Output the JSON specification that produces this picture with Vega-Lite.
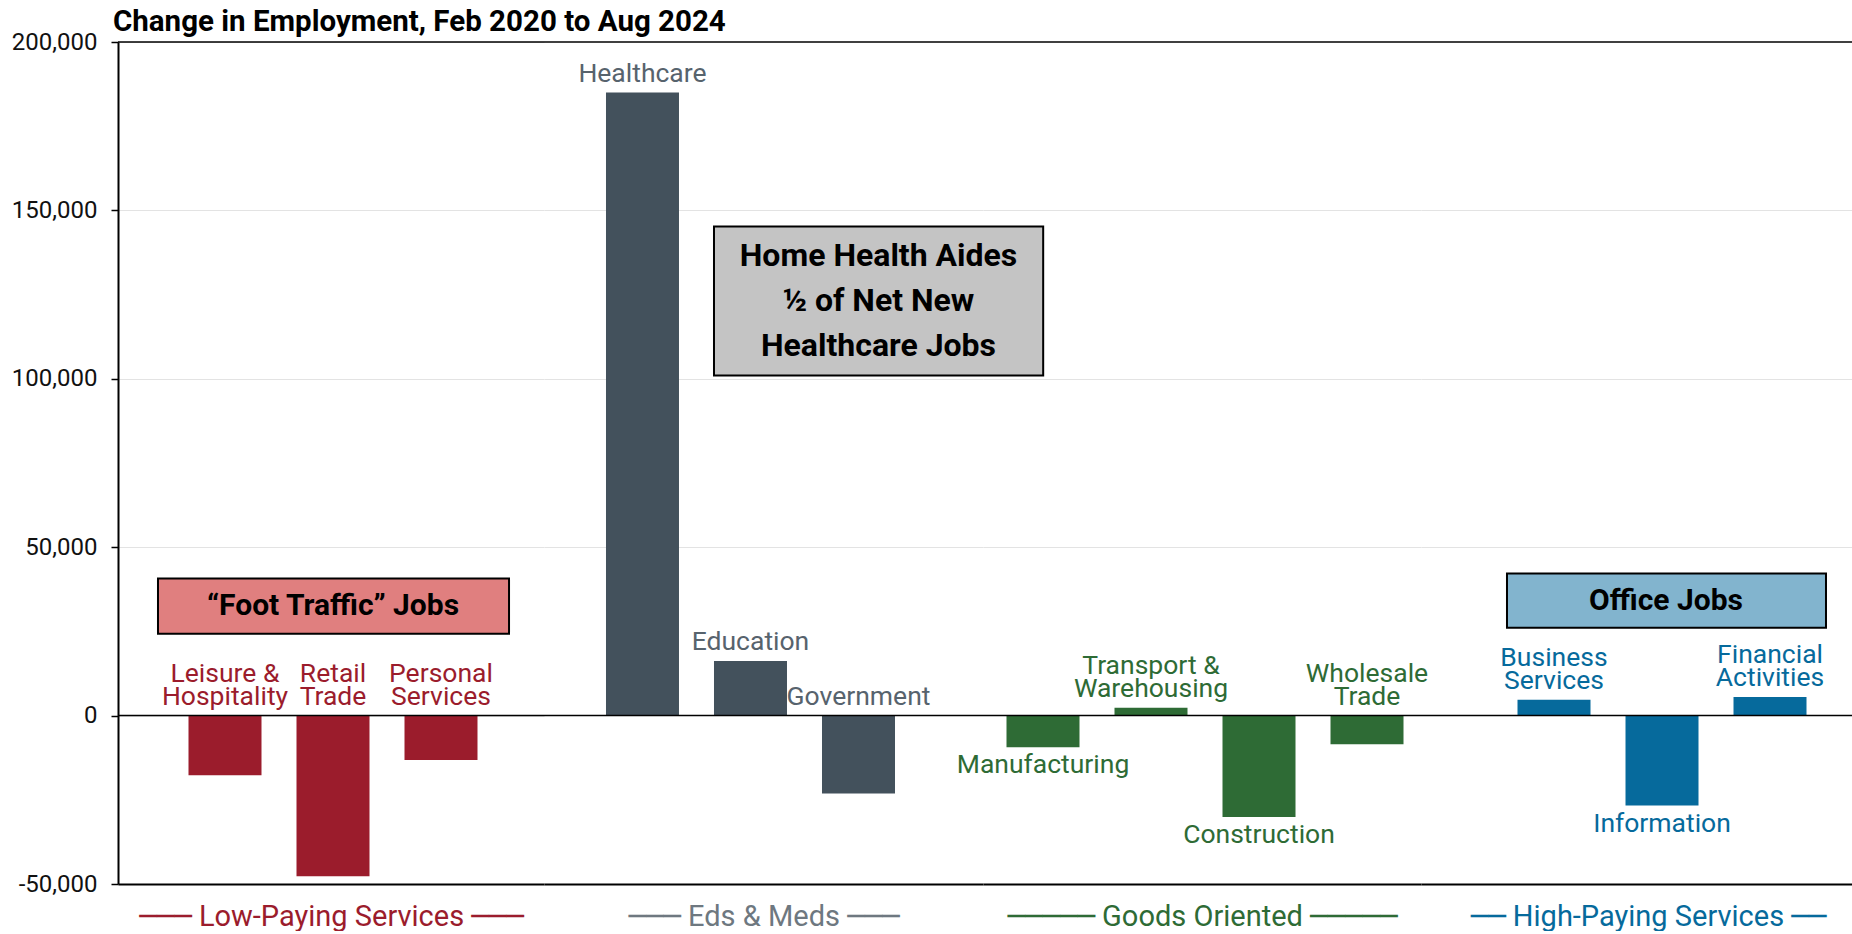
{
  "$schema": "https://vega.github.io/schema/vega-lite/v6.json",
  "padding": {"left": 11, "top": 6, "right": 0, "bottom": 0},
  "background": "white",
  "title": {"text": "Change in Employment, Feb 2020 to Aug 2024", "anchor": "start", "frame": "group", "font": "Roboto", "fontSize": 29.5, "fontWeight": "bold", "color": "#000000", "offset": -7, "dx": -5},
  "bounds": "flush",
  "spacing": 0,
  "datasets": {
    "jobs": [
      {"group": "Low-Paying Services", "sector": "Leisure & Hospitality", "label": ["Leisure &", "Hospitality"], "value": -17700, "labelAt": "zero"},
      {"group": "Low-Paying Services", "sector": "Retail Trade", "label": ["Retail", "Trade"], "value": -47700, "labelAt": "zero"},
      {"group": "Low-Paying Services", "sector": "Personal Services", "label": ["Personal", "Services"], "value": -13200, "labelAt": "zero"},
      {"group": "Eds & Meds", "sector": "Healthcare", "label": "Healthcare", "value": 185000, "labelAt": "end"},
      {"group": "Eds & Meds", "sector": "Education", "label": "Education", "value": 16200, "labelAt": "end"},
      {"group": "Eds & Meds", "sector": "Government", "label": "Government", "value": -23100, "labelAt": "zero"},
      {"group": "Goods Oriented", "sector": "Manufacturing", "label": "Manufacturing", "value": -9400, "labelAt": "end"},
      {"group": "Goods Oriented", "sector": "Transport & Warehousing", "label": ["Transport &", "Warehousing"], "value": 2300, "labelAt": "end"},
      {"group": "Goods Oriented", "sector": "Construction", "label": "Construction", "value": -30100, "labelAt": "end"},
      {"group": "Goods Oriented", "sector": "Wholesale Trade", "label": ["Wholesale", "Trade"], "value": -8500, "labelAt": "zero"},
      {"group": "High-Paying Services", "sector": "Business Services", "label": ["Business", "Services"], "value": 4700, "labelAt": "end"},
      {"group": "High-Paying Services", "sector": "Information", "label": "Information", "value": -26700, "labelAt": "end"},
      {"group": "High-Paying Services", "sector": "Financial Activities", "label": ["Financial", "Activities"], "value": 5500, "labelAt": "end"}
    ],
    "boxes": [
      {"group": "Low-Paying Services", "text": "“Foot Traffic” Jobs", "from": "Leisure & Hospitality", "to": "Personal Services", "anchor": "Retail Trade", "top": 40700, "bottom": 24300},
      {"group": "Eds & Meds", "text": ["Home Health Aides", "½ of Net New", "Healthcare Jobs"], "from": "Education", "to": "Government", "anchor": "Government", "top": 145200, "bottom": 101000},
      {"group": "High-Paying Services", "text": "Office Jobs", "from": "Business Services", "to": "Financial Activities", "anchor": "Information", "top": 42200, "bottom": 26100}
    ]
  },
  "hconcat": [
    {
      "width": 426, "height": 842,
      "layer": [
        {"data": {"name": "jobs"}, "transform": [{"filter": "datum.group === 'Low-Paying Services'"}],
         "mark": {"type": "bar", "color": "#9B1C2C"},
         "encoding": {
           "x": {"field": "sector", "type": "nominal", "scale": {"domain": ["Leisure & Hospitality", "Retail Trade", "Personal Services"], "paddingInner": 0.3241, "paddingOuter": 0.6343, "align": 0.5146},
                 "axis": {"title": "─── Low-Paying Services ───", "labels": false, "ticks": false, "domain": true, "domainColor": "#000000", "domainWidth": 2, "titleFont": "Roboto, DejaVu Sans", "titleFontSize": 29, "titleFontWeight": "normal", "titleColor": "#9B1C2C", "titlePadding": 18}},
           "y": {"field": "value", "type": "quantitative", "scale": {"domain": [-50000, 200000], "nice": false, "zero": false},
                 "axis": {"values": [-50000, 0, 50000, 100000, 150000, 200000], "title": null, "labelExpr": "datum.value < 0 ? '-' + format(-datum.value, ',') : format(datum.value, ',')", "labelFont": "Roboto", "labelFontSize": 24, "labelColor": "#111111", "labelPadding": 14, "tickSize": 7, "tickColor": "#000000", "tickWidth": 1.5, "domainColor": "#000000", "domainWidth": 2, "grid": true, "gridColor": "#e3e3e3", "gridWidth": 1}},
           "y2": {"datum": 0}
         }},
        {"data": {"values": [{}]}, "mark": {"type": "rule", "color": "#000000", "strokeWidth": 1.5}, "encoding": {"y": {"datum": 0}}},
        {"data": {"values": [{}]}, "mark": {"type": "rule", "color": "#000000", "strokeWidth": 1.5}, "encoding": {"y": {"datum": 200000}}},
        {"data": {"name": "jobs"}, "transform": [{"filter": "datum.group === 'Low-Paying Services'"}, {"calculate": "datum.labelAt === 'zero' ? 0 : datum.value", "as": "ly"}, {"filter": "!(datum.labelAt === 'end' && datum.value < 0) && isArray(datum.label)"}],
         "mark": {"type": "text", "baseline": "bottom", "dy": -28, "fontSize": 26.5, "lineHeight": 23, "color": "#9B1C2C", "font": "Roboto"},
         "encoding": {"x": {"field": "sector", "type": "nominal"}, "y": {"field": "ly", "type": "quantitative"}, "text": {"field": "label"}}},
        {"data": {"name": "boxes"}, "transform": [{"filter": "datum.group === 'Low-Paying Services'"}],
         "mark": {"type": "rect", "fill": "#E07F7F", "stroke": "#000000", "strokeWidth": 2},
         "encoding": {"x": {"field": "from", "type": "nominal", "bandPosition": -0.418}, "x2": {"field": "to", "bandPosition": 1.432}, "y": {"field": "top", "type": "quantitative"}, "y2": {"field": "bottom"}}},
        {"data": {"name": "boxes"}, "transform": [{"filter": "datum.group === 'Low-Paying Services'"}, {"calculate": "(datum.top + datum.bottom) / 2", "as": "mid"}],
         "mark": {"type": "text", "fontSize": 30, "fontWeight": "bold", "baseline": "middle", "align": "center", "color": "#000000", "font": "Roboto"},
         "encoding": {"x": {"field": "anchor", "type": "nominal", "bandPosition": 0.5}, "y": {"field": "mid", "type": "quantitative"}, "text": {"field": "text"}}}
      ]
    },
    {
      "width": 439, "height": 842,
      "layer": [
        {"data": {"name": "jobs"}, "transform": [{"filter": "datum.group === 'Eds & Meds'"}],
         "mark": {"type": "bar", "color": "#43515C"},
         "encoding": {
           "x": {"field": "sector", "type": "nominal", "scale": {"domain": ["Healthcare", "Education", "Government"], "paddingInner": 0.3241, "paddingOuter": 0.6944, "align": 0.4133},
                 "axis": {"title": "─── Eds & Meds ───", "labels": false, "ticks": false, "domain": true, "domainColor": "#000000", "domainWidth": 2, "titleFont": "Roboto, DejaVu Sans", "titleFontSize": 29, "titleFontWeight": "normal", "titleColor": "#6E7880", "titlePadding": 18}},
           "y": {"field": "value", "type": "quantitative", "scale": {"domain": [-50000, 200000], "nice": false, "zero": false},
                 "axis": {"values": [50000, 100000, 150000], "title": null, "labels": false, "ticks": false, "domain": false, "grid": true, "gridColor": "#e3e3e3", "gridWidth": 1}},
           "y2": {"datum": 0}
         }},
        {"data": {"values": [{}]}, "mark": {"type": "rule", "color": "#000000", "strokeWidth": 1.5}, "encoding": {"y": {"datum": 0}}},
        {"data": {"values": [{}]}, "mark": {"type": "rule", "color": "#000000", "strokeWidth": 1.5}, "encoding": {"y": {"datum": 200000}}},
        {"data": {"name": "jobs"}, "transform": [{"filter": "datum.group === 'Eds & Meds'"}, {"calculate": "datum.labelAt === 'zero' ? 0 : datum.value", "as": "ly"}, {"filter": "!(datum.labelAt === 'end' && datum.value < 0) && !isArray(datum.label)"}],
         "mark": {"type": "text", "baseline": "bottom", "dy": -5, "fontSize": 26.5, "lineHeight": 23, "color": "#57636D", "font": "Roboto"},
         "encoding": {"x": {"field": "sector", "type": "nominal"}, "y": {"field": "ly", "type": "quantitative"}, "text": {"field": "label"}}},
        {"data": {"name": "boxes"}, "transform": [{"filter": "datum.group === 'Eds & Meds'"}],
         "mark": {"type": "rect", "fill": "#C4C4C4", "stroke": "#000000", "strokeWidth": 2},
         "encoding": {"x": {"field": "from", "type": "nominal", "bandPosition": 0}, "x2": {"field": "to", "bandPosition": 3.03}, "y": {"field": "top", "type": "quantitative"}, "y2": {"field": "bottom"}}},
        {"data": {"name": "boxes"}, "transform": [{"filter": "datum.group === 'Eds & Meds'"}, {"calculate": "(datum.top + datum.bottom) / 2", "as": "mid"}],
         "mark": {"type": "text", "fontSize": 32, "fontWeight": "bold", "baseline": "middle", "align": "center", "color": "#000000", "font": "Roboto", "lineHeight": 45, "dy": -45},
         "encoding": {"x": {"field": "anchor", "type": "nominal", "bandPosition": 0.774}, "y": {"field": "mid", "type": "quantitative"}, "text": {"field": "text"}}}
      ]
    },
    {
      "width": 438, "height": 842,
      "layer": [
        {"data": {"name": "jobs"}, "transform": [{"filter": "datum.group === 'Goods Oriented'"}],
         "mark": {"type": "bar", "color": "#2E6B35"},
         "encoding": {
           "x": {"field": "sector", "type": "nominal", "scale": {"domain": ["Manufacturing", "Transport & Warehousing", "Construction", "Wholesale Trade"], "paddingInner": 0.3241, "paddingOuter": 0.1898, "align": 0.5732},
                 "axis": {"title": "───── Goods Oriented ─────", "labels": false, "ticks": false, "domain": true, "domainColor": "#000000", "domainWidth": 2, "titleFont": "Roboto, DejaVu Sans", "titleFontSize": 29, "titleFontWeight": "normal", "titleColor": "#2E6B35", "titlePadding": 18}},
           "y": {"field": "value", "type": "quantitative", "scale": {"domain": [-50000, 200000], "nice": false, "zero": false},
                 "axis": {"values": [50000, 100000, 150000], "title": null, "labels": false, "ticks": false, "domain": false, "grid": true, "gridColor": "#e3e3e3", "gridWidth": 1}},
           "y2": {"datum": 0}
         }},
        {"data": {"values": [{}]}, "mark": {"type": "rule", "color": "#000000", "strokeWidth": 1.5}, "encoding": {"y": {"datum": 0}}},
        {"data": {"values": [{}]}, "mark": {"type": "rule", "color": "#000000", "strokeWidth": 1.5}, "encoding": {"y": {"datum": 200000}}},
        {"data": {"name": "jobs"}, "transform": [{"filter": "datum.group === 'Goods Oriented'"}, {"calculate": "datum.labelAt === 'zero' ? 0 : datum.value", "as": "ly"}, {"filter": "!(datum.labelAt === 'end' && datum.value < 0) && isArray(datum.label)"}],
         "mark": {"type": "text", "baseline": "bottom", "dy": -28, "fontSize": 26.5, "lineHeight": 23, "color": "#2E6B35", "font": "Roboto"},
         "encoding": {"x": {"field": "sector", "type": "nominal"}, "y": {"field": "ly", "type": "quantitative"}, "text": {"field": "label"}}},
        {"data": {"name": "jobs"}, "transform": [{"filter": "datum.group === 'Goods Oriented' && datum.labelAt === 'end' && datum.value < 0"}],
         "mark": {"type": "text", "baseline": "top", "dy": 5, "fontSize": 26.5, "lineHeight": 23, "color": "#2E6B35", "font": "Roboto"},
         "encoding": {"x": {"field": "sector", "type": "nominal"}, "y": {"field": "value", "type": "quantitative"}, "text": {"field": "label"}}}
      ]
    },
    {
      "width": 431, "height": 842,
      "layer": [
        {"data": {"name": "jobs"}, "transform": [{"filter": "datum.group === 'High-Paying Services'"}],
         "mark": {"type": "bar", "color": "#066A9C"},
         "encoding": {
           "x": {"field": "sector", "type": "nominal", "scale": {"domain": ["Business Services", "Information", "Financial Activities"], "paddingInner": 0.3241, "paddingOuter": 0.6574, "align": 0.6796},
                 "axis": {"title": "── High-Paying Services ──", "labels": false, "ticks": false, "domain": true, "domainColor": "#000000", "domainWidth": 2, "titleFont": "Roboto, DejaVu Sans", "titleFontSize": 29, "titleFontWeight": "normal", "titleColor": "#066A9C", "titlePadding": 18, "titleX": 227, "titleAlign": "center"}},
           "y": {"field": "value", "type": "quantitative", "scale": {"domain": [-50000, 200000], "nice": false, "zero": false},
                 "axis": {"values": [50000, 100000, 150000], "title": null, "labels": false, "ticks": false, "domain": false, "grid": true, "gridColor": "#e3e3e3", "gridWidth": 1}},
           "y2": {"datum": 0}
         }},
        {"data": {"values": [{}]}, "mark": {"type": "rule", "color": "#000000", "strokeWidth": 1.5}, "encoding": {"y": {"datum": 0}}},
        {"data": {"values": [{}]}, "mark": {"type": "rule", "color": "#000000", "strokeWidth": 1.5}, "encoding": {"y": {"datum": 200000}}},
        {"data": {"name": "jobs"}, "transform": [{"filter": "datum.group === 'High-Paying Services'"}, {"calculate": "datum.labelAt === 'zero' ? 0 : datum.value", "as": "ly"}, {"filter": "!(datum.labelAt === 'end' && datum.value < 0) && isArray(datum.label)"}],
         "mark": {"type": "text", "baseline": "bottom", "dy": -28, "fontSize": 26.5, "lineHeight": 23, "color": "#066A9C", "font": "Roboto"},
         "encoding": {"x": {"field": "sector", "type": "nominal"}, "y": {"field": "ly", "type": "quantitative"}, "text": {"field": "label"}}},
        {"data": {"name": "jobs"}, "transform": [{"filter": "datum.group === 'High-Paying Services' && datum.labelAt === 'end' && datum.value < 0"}],
         "mark": {"type": "text", "baseline": "top", "dy": 5, "fontSize": 26.5, "lineHeight": 23, "color": "#066A9C", "font": "Roboto"},
         "encoding": {"x": {"field": "sector", "type": "nominal"}, "y": {"field": "value", "type": "quantitative"}, "text": {"field": "label"}}},
        {"data": {"name": "boxes"}, "transform": [{"filter": "datum.group === 'High-Paying Services'"}],
         "mark": {"type": "rect", "fill": "#82B4CE", "stroke": "#000000", "strokeWidth": 2},
         "encoding": {"x": {"field": "from", "type": "nominal", "bandPosition": -0.144}, "x2": {"field": "to", "bandPosition": 1.267}, "y": {"field": "top", "type": "quantitative"}, "y2": {"field": "bottom"}}},
        {"data": {"name": "boxes"}, "transform": [{"filter": "datum.group === 'High-Paying Services'"}, {"calculate": "(datum.top + datum.bottom) / 2", "as": "mid"}],
         "mark": {"type": "text", "fontSize": 30, "fontWeight": "bold", "baseline": "middle", "align": "center", "color": "#000000", "font": "Roboto"},
         "encoding": {"x": {"field": "anchor", "type": "nominal", "bandPosition": 0.555}, "y": {"field": "mid", "type": "quantitative"}, "text": {"field": "text"}}}
      ]
    }
  ],
  "config": {
    "view": {"stroke": null},
    "font": "Roboto",
    "text": {"font": "Roboto"}
  }
}
